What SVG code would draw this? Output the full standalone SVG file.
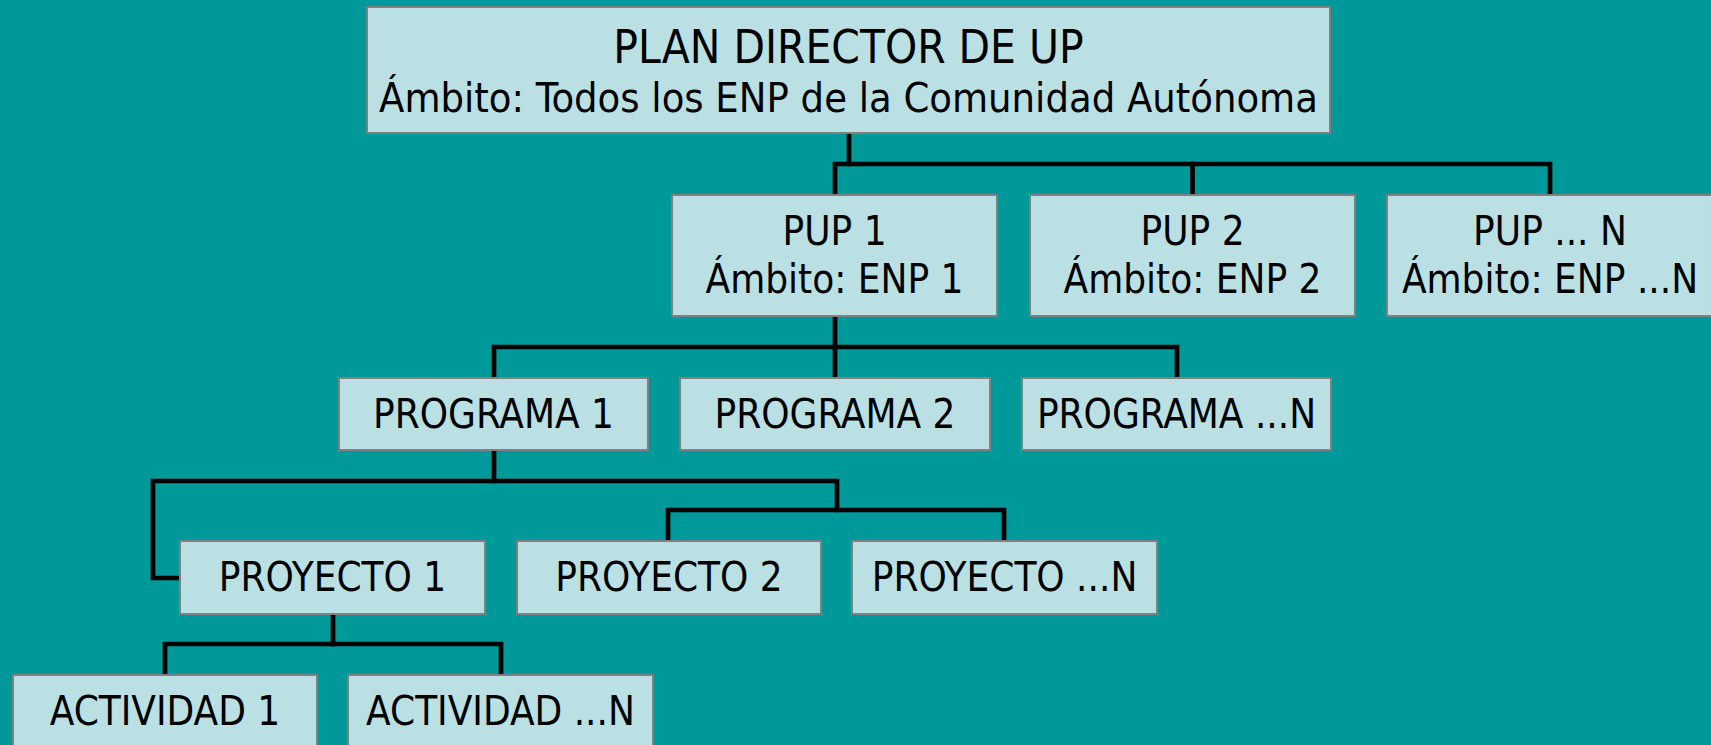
<svg xmlns="http://www.w3.org/2000/svg" width="1711" height="745" viewBox="0 0 1711 745">
<style>
.box{fill:#BBE0E3;stroke:#808080;stroke-width:2}
.t{font-family:"DejaVu Sans Condensed","DejaVu Sans",sans-serif;font-stretch:condensed;font-size:40px;fill:#000;text-anchor:middle}
.t1{font-size:45.5px}
.t2{font-size:41.2px}
.c{fill:none;stroke:#000;stroke-width:4.7;stroke-linejoin:miter;stroke-linecap:square}
</style>
<rect width="1711" height="745" fill="#009999"/>
<g id="connectors">
<path class="c" d="M849,135 V164"/>
<path class="c" d="M835,193 V164 H1550 V193"/>
<path class="c" d="M1192.5,164 V193"/>
<path class="c" d="M835,318 V347"/>
<path class="c" d="M494,376 V347 H1177 V376"/>
<path class="c" d="M835,347 V376"/>
<path class="c" d="M494,452 V481 H837 V510"/>
<path class="c" d="M494,481 H153 V578 H178"/>
<path class="c" d="M668,539 V510 H1004 V539"/>
<path class="c" d="M333,616 V644"/>
<path class="c" d="M165,673 V644 H501 V673"/>
</g>
<g id="plan-director">
<rect class="box" x="367" y="7" width="963" height="126"/>
<text class="t t1" x="848.5" y="63">PLAN DIRECTOR DE UP</text>
<text class="t t2" x="848.5" y="112">Ámbito: Todos los ENP de la Comunidad Autónoma</text>
</g>
<g id="pup1">
<rect class="box" x="672" y="195" width="325" height="121"/>
<text class="t" x="834.5" y="245">PUP 1</text>
<text class="t" x="834.5" y="293">Ámbito: ENP 1</text>
</g>
<g id="pup2">
<rect class="box" x="1030" y="195" width="325" height="121"/>
<text class="t" x="1192.5" y="245">PUP 2</text>
<text class="t" x="1192.5" y="293">Ámbito: ENP 2</text>
</g>
<g id="pupN">
<rect class="box" x="1387" y="195" width="326" height="121"/>
<text class="t" x="1550" y="245">PUP ... N</text>
<text class="t" x="1550" y="293">Ámbito: ENP ...N</text>
</g>
<g id="programa1">
<rect class="box" x="339" y="378" width="309" height="72"/>
<text class="t" x="493.5" y="428">PROGRAMA 1</text>
</g>
<g id="programa2">
<rect class="box" x="680" y="378" width="310" height="72"/>
<text class="t" x="835" y="428">PROGRAMA 2</text>
</g>
<g id="programaN">
<rect class="box" x="1022" y="378" width="309" height="72"/>
<text class="t" x="1176.5" y="428">PROGRAMA ...N</text>
</g>
<g id="proyecto1">
<rect class="box" x="180" y="541" width="305" height="73"/>
<text class="t" x="332.5" y="591">PROYECTO 1</text>
</g>
<g id="proyecto2">
<rect class="box" x="517" y="541" width="304" height="73"/>
<text class="t" x="669" y="591">PROYECTO 2</text>
</g>
<g id="proyectoN">
<rect class="box" x="852" y="541" width="305" height="73"/>
<text class="t" x="1004.5" y="591">PROYECTO ...N</text>
</g>
<g id="actividad1">
<rect class="box" x="13" y="675" width="304" height="90"/>
<text class="t" x="165" y="725">ACTIVIDAD 1</text>
</g>
<g id="actividadN">
<rect class="box" x="348" y="675" width="305" height="90"/>
<text class="t" x="500.5" y="725">ACTIVIDAD ...N</text>
</g>
</svg>
